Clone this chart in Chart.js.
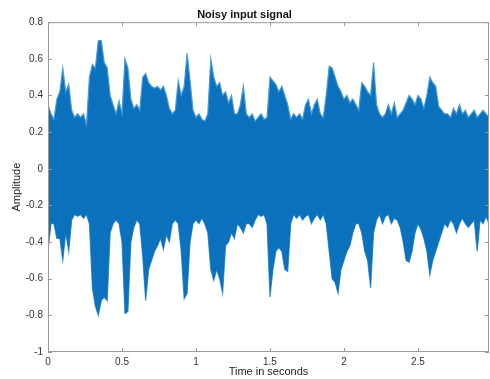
<!DOCTYPE html>
<html>
<head>
<meta charset="utf-8">
<script src="https://cdn.jsdelivr.net/npm/chart.js@4.4.1/dist/chart.umd.min.js"></script>
<style>
  html, body { margin: 0; padding: 0; background: #fff; }
  #wrap { width: 490px; height: 379px; }
</style>
</head>
<body>
<div id="wrap"><canvas id="signal-chart"></canvas></div>
<script>
// --- data: envelope of the waveform, one column every 0.02 s ---
const SAMPLE_STEP = 0.02;
const upperEnvelope = [
  0.35, 0.30, 0.27, 0.38, 0.42, 0.55, 0.42, 0.46, 0.32, 0.28,
  0.30, 0.28, 0.30, 0.24, 0.50, 0.57, 0.55, 0.70, 0.70, 0.58,
  0.55, 0.40, 0.35, 0.30, 0.37, 0.30, 0.60, 0.55, 0.38, 0.33,
  0.35, 0.32, 0.50, 0.52, 0.47, 0.45, 0.44, 0.45, 0.43, 0.45,
  0.40, 0.33, 0.30, 0.32, 0.48, 0.40, 0.45, 0.63, 0.48, 0.32,
  0.28, 0.30, 0.27, 0.26, 0.30, 0.60, 0.50, 0.45, 0.47, 0.40,
  0.42, 0.36, 0.40, 0.30, 0.30, 0.35, 0.45, 0.30, 0.28, 0.30,
  0.26, 0.28, 0.30, 0.27, 0.28, 0.50, 0.48, 0.46, 0.42, 0.45,
  0.40, 0.35, 0.27, 0.30, 0.28, 0.30, 0.27, 0.35, 0.38, 0.30,
  0.35, 0.38, 0.30, 0.28, 0.40, 0.56, 0.55, 0.50, 0.45, 0.42,
  0.38, 0.40, 0.36, 0.38, 0.35, 0.32, 0.47, 0.45, 0.42, 0.40,
  0.58, 0.35, 0.30, 0.28, 0.30, 0.35, 0.30, 0.36, 0.28, 0.30,
  0.32, 0.36, 0.40, 0.38, 0.35, 0.40, 0.38, 0.33, 0.40, 0.50,
  0.47, 0.45, 0.34, 0.32, 0.30, 0.30, 0.28, 0.33, 0.30, 0.35,
  0.30, 0.32, 0.28, 0.30, 0.32, 0.28, 0.30, 0.32, 0.30, 0.28
];
const lowerEnvelope = [
  -0.45, -0.30, -0.30, -0.38, -0.38, -0.50, -0.35, -0.45, -0.28, -0.25,
  -0.26, -0.25, -0.27, -0.25, -0.30, -0.65, -0.75, -0.80, -0.72, -0.70,
  -0.72, -0.35, -0.30, -0.28, -0.30, -0.40, -0.79, -0.78, -0.40, -0.32,
  -0.28, -0.30, -0.48, -0.72, -0.55, -0.50, -0.45, -0.42, -0.38, -0.44,
  -0.36, -0.40, -0.30, -0.28, -0.30, -0.45, -0.71, -0.68, -0.40, -0.30,
  -0.28, -0.30, -0.27, -0.30, -0.35, -0.55, -0.61, -0.55, -0.60, -0.68,
  -0.42, -0.40, -0.35, -0.38, -0.30, -0.32, -0.35, -0.30, -0.30, -0.32,
  -0.28, -0.25, -0.26, -0.25, -0.30, -0.70, -0.55, -0.45, -0.43, -0.45,
  -0.55, -0.56, -0.30, -0.25, -0.27, -0.25, -0.28, -0.26, -0.25, -0.30,
  -0.27, -0.25, -0.28, -0.25, -0.30, -0.45, -0.60, -0.62, -0.68, -0.55,
  -0.50, -0.45, -0.42, -0.35, -0.30, -0.30, -0.35, -0.45, -0.50, -0.65,
  -0.35, -0.28, -0.25, -0.30, -0.26, -0.25, -0.30, -0.27, -0.28, -0.32,
  -0.40, -0.50, -0.51, -0.45, -0.35, -0.30, -0.33, -0.38, -0.45, -0.58,
  -0.50, -0.45, -0.40, -0.35, -0.30, -0.32, -0.28, -0.30, -0.35, -0.30,
  -0.27, -0.30, -0.32, -0.30, -0.28, -0.45, -0.28, -0.30, -0.26, -0.30
];
const xTickValues = [0, 0.5, 1, 1.5, 2, 2.5];
const yTickValues = [-1, -0.8, -0.6, -0.4, -0.2, 0, 0.2, 0.4, 0.6, 0.8];
const X_MAX = 2.98;

const upperPoints = upperEnvelope.map((v, i) => ({ x: i * SAMPLE_STEP, y: v }));
const lowerPoints = lowerEnvelope.map((v, i) => ({ x: i * SAMPLE_STEP, y: v }));

// MATLAB style box with inward ticks
const boxPlugin = {
  id: 'matlabBox',
  afterDraw(chart) {
    const { ctx, chartArea: a, scales } = chart;
    ctx.save();
    ctx.strokeStyle = '#9a9a9a';
    ctx.lineWidth = 1;
    ctx.strokeRect(a.left + 0.5, a.top + 0.5, a.right - a.left - 1, a.bottom - a.top - 1);
    ctx.beginPath();
    xTickValues.forEach(v => {
      const px = Math.round(scales.x.getPixelForValue(v)) + 0.5;
      ctx.moveTo(px, a.bottom); ctx.lineTo(px, a.bottom - 4);
      ctx.moveTo(px, a.top); ctx.lineTo(px, a.top + 4);
    });
    yTickValues.forEach(v => {
      const py = Math.round(scales.y.getPixelForValue(v)) + 0.5;
      ctx.moveTo(a.left, py); ctx.lineTo(a.left + 4, py);
      ctx.moveTo(a.right, py); ctx.lineTo(a.right - 4, py);
    });
    ctx.stroke();
    ctx.restore();
  }
};

Chart.defaults.font.family = '"Liberation Sans", Arial, Helvetica, sans-serif';
Chart.defaults.color = '#333';

const signalColor = '#0b71bd';
const tipColor = '#4b9bd6';

new Chart(document.getElementById('signal-chart'), {
  type: 'line',
  data: {
    datasets: [{
      label: 'upper',
      data: upperPoints,
      borderColor: tipColor,
      borderWidth: 1.2,
      backgroundColor: signalColor,
      fill: '+1',
      pointRadius: 0,
      tension: 0
    }, {
      label: 'lower',
      data: lowerPoints,
      borderColor: tipColor,
      borderWidth: 1.2,
      backgroundColor: signalColor,
      fill: false,
      pointRadius: 0,
      tension: 0
    }]
  },
  options: {
    responsive: true,
    maintainAspectRatio: false,
    animation: false,
    layout: { padding: { right: 1, left: 0, bottom: 0, top: 0 } },
    plugins: {
      legend: { display: false },
      tooltip: { enabled: false },
      title: {
        display: true,
        text: 'Noisy input signal',
        color: '#111',
        font: { size: 11, weight: 'bold' },
        padding: { top: 8, bottom: 1 }
      }
    },
    scales: {
      x: {
        type: 'linear',
        min: 0,
        max: X_MAX,
        grid: { display: false, drawTicks: false },
        border: { display: false },
        afterBuildTicks: s => { s.ticks = xTickValues.map(v => ({ value: v })); },
        afterFit: s => { s.height = 27; },
        ticks: { font: { size: 10 }, color: '#333', padding: 4, maxRotation: 0, callback: v => String(v) },
        title: { display: true, text: 'Time in seconds', font: { size: 11 }, color: '#222', padding: { top: 0, bottom: 0 } }
      },
      y: {
        min: -1,
        max: 0.8,
        grid: { display: false, drawTicks: false },
        border: { display: false },
        afterBuildTicks: s => { s.ticks = yTickValues.map(v => ({ value: v })); },
        afterFit: s => { s.width = 48; },
        ticks: { font: { size: 10 }, color: '#333', padding: 5, callback: v => String(+v.toFixed(1)) },
        title: { display: true, text: 'Amplitude', font: { size: 11 }, color: '#222', padding: { top: 10, bottom: 0 } }
      }
    }
  },
  plugins: [boxPlugin]
});
</script>
</body>
</html>
